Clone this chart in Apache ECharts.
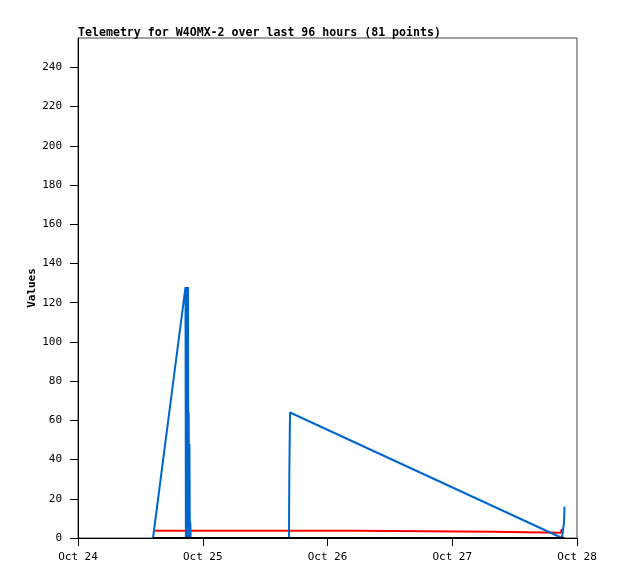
<!DOCTYPE html>
<html>
<head>
<meta charset="utf-8">
<script src="https://cdn.jsdelivr.net/npm/echarts@6/dist/echarts.min.js"></script>
<style>
html,body{margin:0;padding:0;background:#fff;}
#chart{width:618px;height:579px;}
</style>
</head>
<body>
<div id="chart"></div>
<script>
// hours since Oct 24 00:00
var dayLabels = ["Oct 24", "Oct 25", "Oct 26", "Oct 27", "Oct 28"];
var blueHours  = [14.43, 20.68, 20.76, 20.84, 20.92, 21.00, 21.08, 21.16, 21.24, 21.30, 21.36, 21.44, 21.52, 21.60, 21.68, 21.76, 40.59, 40.65, 40.79, 93.11, 93.50, 93.60];
var blueValues = [0,     128,   0,     128,   0,     128,   0,     128,   0,     64,    0,     48,    0,     8,     0,     0,     0,     32,    64,    0,     8,     16];
var redHours   = [14.81, 53.67, 53.77, 79.84, 79.94, 92.92, 93.02, 93.50];
var redValues  = [3.7,   3.7,   3.2,   3.2,   2.7,   2.7,   4.2,   4.2];
var blackHours  = [14.43, 93.60];
var blackValues = [0, 0];

function pairs(xs, ys){ return xs.map(function(x,i){ return [x, ys[i]]; }); }

var font = "DejaVu Sans Mono";
var chart = echarts.init(document.getElementById('chart'), null, {renderer:'canvas'});
chart.setOption({
  animation: false,
  backgroundColor: '#ffffff',
  title: {
    text: 'Telemetry for W4OMX-2 over last 96 hours (81 points)',
    left: 73, top: 22,
    textStyle: {fontFamily: font, fontSize: 11.6, fontWeight: 'bold', color: '#000'}
  },
  grid: {left: 78, right: 41, top: 38, bottom: 41, show: true, borderColor: '#444', borderWidth: 1, backgroundColor: 'transparent'},
  xAxis: {
    type: 'value', min: 0, max: 96, interval: 24,
    axisLine: {show: true, lineStyle: {color: '#000', width: 1}},
    axisTick: {show: true, length: 8, inside: false, lineStyle: {color: '#000'}},
    splitLine: {show: false},
    axisLabel: {fontFamily: font, fontSize: 11, color: '#000', margin: 14,
      formatter: function(v){ return dayLabels[Math.round(v/24)] || ''; }}
  },
  yAxis: {
    type: 'value', min: 0, max: 255, interval: 20,
    name: 'Values', nameLocation: 'middle', nameGap: 40, nameRotate: 90, nameMoveOverlap: false,
    nameTextStyle: {fontFamily: font, fontSize: 11, fontWeight: 'bold', color: '#000'},
    axisLine: {show: true, lineStyle: {color: '#000', width: 1}},
    axisTick: {show: true, length: 8, lineStyle: {color: '#000'}},
    splitLine: {show: false},
    axisLabel: {fontFamily: font, fontSize: 11, color: '#000', margin: 16, showMaxLabel: false,
      formatter: function(v){ return (v % 20 === 0) ? String(v) : ''; }}
  },
  series: [
    {type: 'line', data: pairs(redHours, redValues), showSymbol: false, smooth: false, lineStyle: {color: '#ff0000', width: 2}, itemStyle:{color:'#ff0000'}},
    {type: 'line', data: pairs(blueHours, blueValues), showSymbol: false, smooth: false, lineStyle: {color: '#0066cc', width: 2}, itemStyle:{color:'#0066cc'}},
    {type: 'line', data: pairs(blackHours, blackValues), showSymbol: false, smooth: false, lineStyle: {color: '#000000', width: 2}, itemStyle:{color:'#000'}}
  ]
});
</script>
</body>
</html>
